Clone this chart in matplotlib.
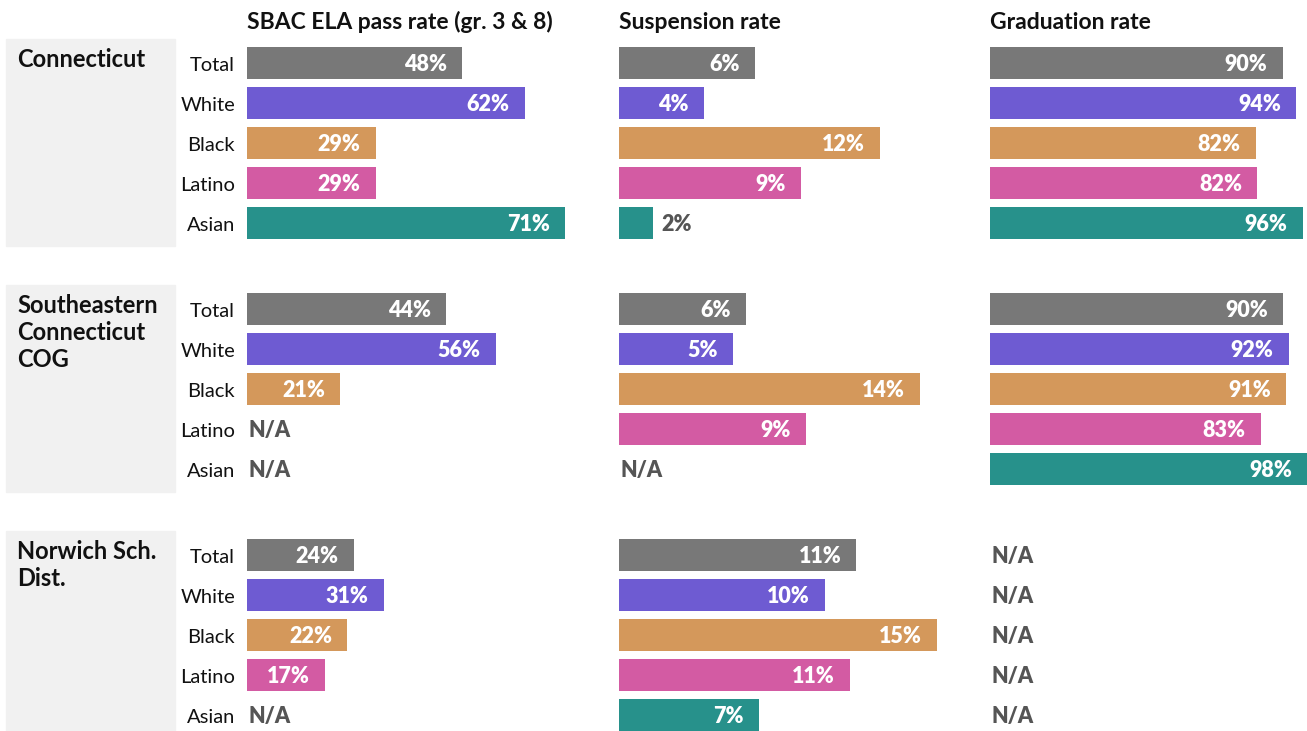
import matplotlib
matplotlib.use("Agg")
import matplotlib.pyplot as plt
from matplotlib.patches import Rectangle

plt.rcParams['font.family'] = ['Lato', 'DejaVu Sans']

# ---- data ----
groups = ['Connecticut', 'Southeastern\nConnecticut\nCOG', 'Norwich Sch.\nDist.']
categories = ['Total', 'White', 'Black', 'Latino', 'Asian']
metrics = ['SBAC ELA pass rate (gr. 3 & 8)', 'Suspension rate', 'Graduation rate']

# None = N/A
sbac = [
    [48.0, 62.1, 28.8, 28.8, 71.0],
    [44.4, 55.6, 20.8, None, None],
    [23.9, 30.6, 22.4, 17.4, None],
]
suspension = [
    [6.4, 4.0, 12.3, 8.6, 1.6],
    [6.0, 5.4, 14.2, 8.8, None],
    [11.2, 9.7, 15.0, 10.9, 6.6],
]
graduation = [
    [90.2, 94.4, 81.9, 82.4, 96.4],
    [90.4, 92.1, 91.2, 83.4, 98.0],
    [None, None, None, None, None],
]
colors = ['#787878', '#6e5bd2', '#d4985b', '#d35ba3', '#27918b']

# ---- layout (pixels) ----
W, H = 1307, 731
fig = plt.figure(figsize=(W / 100, H / 100), dpi=100)
col_x = [247, 619, 990]
col_w = 318
grp_top = 43
grp_pitch = 246
ax_h = 200
lbl_w = 'heavy'


def fx(px):
    return px / W


def fy(py):
    return 1 - py / H


data = [sbac, suspension, graduation]

for g in range(3):
    # grey box behind the group label
    y0 = 39 + g * grp_pitch
    fig.patches.append(Rectangle((fx(6), fy(y0 + 207)), fx(169), 207 / H,
                                 transform=fig.transFigure, color='#f1f1f1', zorder=0))
    for k, line in enumerate(groups[g].split('\n')):
        fig.text(fx(17), fy(67 + g * grp_pitch + k * 27), line, fontsize=17,
                 fontweight='bold', color='#111111', va='baseline', ha='left')

    for c in range(3):
        vals = data[c][g]
        xmax = max(v for row in data[c] for v in row if v is not None)
        top = grp_top + g * grp_pitch
        ax = fig.add_axes([fx(col_x[c]), fy(top + ax_h), fx(col_w), ax_h / H])
        ax.set_xlim(0, xmax)
        ax.set_ylim(4.5, -0.5)
        ax.axis('off')
        for i, v in enumerate(vals):
            if v is None:
                ax.annotate('N/A', xy=(0, i), xytext=(1, -5.5), textcoords='offset points',
                            ha='left', va='baseline', fontsize=15.5, fontweight=lbl_w,
                            color='#555555')
                continue
            ax.barh(i, v, height=0.8, color=colors[i])
            label = f'{v:.0f}%'
            if v / xmax < 0.15:
                ax.annotate(label, xy=(v, i), xytext=(6, -5.5), textcoords='offset points',
                            ha='left', va='baseline', fontsize=15.5, fontweight=lbl_w,
                            color='#555555')
            else:
                ax.annotate(label, xy=(v, i), xytext=(-11, -5.5), textcoords='offset points',
                            ha='right', va='baseline', fontsize=15.5, fontweight=lbl_w,
                            color='white')
        if c == 0:
            for i, cat in enumerate(categories):
                ax.annotate(cat, xy=(0, i), xycoords=('axes fraction', 'data'),
                            xytext=(-8.5, -5.5), textcoords='offset points',
                            ha='right', va='baseline', fontsize=14.5, color='#111111')

for c in range(3):
    fig.text(fx(col_x[c]), fy(29), metrics[c], fontsize=16.5, fontweight='bold',
             color='#111111', ha='left', va='baseline')

fig.savefig('out.png', dpi=100)
